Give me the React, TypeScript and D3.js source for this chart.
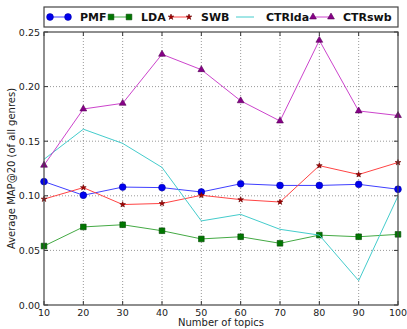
import React from 'react';
import * as d3 from 'd3';

const topics = [10, 20, 30, 40, 50, 60, 70, 80, 90, 100];
const pmf = [0.113, 0.1005, 0.108, 0.1075, 0.1035, 0.111, 0.1095, 0.1095, 0.1105, 0.106];
const lda = [0.054, 0.0715, 0.0735, 0.068, 0.0605, 0.0625, 0.0565, 0.064, 0.0625, 0.0647];
const swb = [0.097, 0.1075, 0.092, 0.093, 0.1005, 0.0965, 0.0943, 0.1276, 0.1195, 0.1305];
const ctrlda = [0.1334, 0.161, 0.148, 0.126, 0.077, 0.083, 0.0693, 0.064, 0.0223, 0.0998];
const ctrswb = [0.128, 0.1795, 0.1847, 0.2296, 0.2155, 0.187, 0.1685, 0.2424, 0.1777, 0.1735];
const yTicks = [0, 0.05, 0.1, 0.15, 0.2, 0.25];

const series = [
  { name: 'PMF', values: pmf, line: '#3f3fff', mark: '#0000ee', edge: '#0000aa', symbol: d3.symbolCircle, size: 36 },
  { name: 'LDA', values: lda, line: '#44aa44', mark: '#007700', edge: '#004400', symbol: d3.symbolSquare, size: 32 },
  { name: 'SWB', values: swb, line: '#ff4444', mark: '#aa0000', edge: '#660000', symbol: d3.symbolStar, size: 10 },
  { name: 'CTRlda', values: ctrlda, line: '#44cccc', mark: null, edge: null, symbol: null, size: 0 },
  { name: 'CTRswb', values: ctrswb, line: '#cc44cc', mark: '#880088', edge: '#550055', symbol: d3.symbolTriangle, size: 20 },
];

// legend entry start positions
const legendX = [50, 111, 171, 236, 313];

const W = 407, H = 329;
const left = 44, right = 398, top = 32, bottom = 305;

export default function App() {
  const x = d3.scaleLinear().domain([10, 100]).range([left, right]);
  const y = d3.scaleLinear().domain([0, 0.25]).range([bottom, top]);
  const line = d3.line<number>().x((d, i) => x(topics[i])).y(d => y(d));
  const font = 'DejaVu Sans, sans-serif';

  return (
    <svg width={W} height={H} style={{ position: 'absolute', left: 0, top: 0 }} fontFamily={font}>
      <rect x={0} y={0} width={W} height={H} fill="white" />
      {/* grid */}
      {topics.slice(1, -1).map(t => (
        <line key={'gx' + t} x1={x(t)} x2={x(t)} y1={top} y2={bottom} stroke="#999" strokeDasharray="1,2" />
      ))}
      {yTicks.slice(1, -1).map(t => (
        <line key={'gy' + t} x1={left} x2={right} y1={y(t)} y2={y(t)} stroke="#999" strokeDasharray="1,2" />
      ))}
      {/* ticks */}
      {topics.map(t => (
        <g key={'tx' + t}>
          <line x1={x(t)} x2={x(t)} y1={bottom} y2={bottom - 4} stroke="#333" />
          <line x1={x(t)} x2={x(t)} y1={top} y2={top + 4} stroke="#333" />
          <text x={x(t)} y={316} fontSize={9.5} textAnchor="middle" fill="#222">{t}</text>
        </g>
      ))}
      {yTicks.map(t => (
        <g key={'ty' + t}>
          <line x1={left} x2={left + 4} y1={y(t)} y2={y(t)} stroke="#333" />
          <line x1={right} x2={right - 4} y1={y(t)} y2={y(t)} stroke="#333" />
          <text x={left - 4} y={y(t) + 3.5} fontSize={9.5} textAnchor="end" fill="#222">{t.toFixed(2)}</text>
        </g>
      ))}
      {/* series */}
      {series.map(s => (
        <g key={s.name}>
          <path d={line(s.values) || ''} fill="none" stroke={s.line} strokeWidth={1} />
          {s.symbol && s.values.map((v, i) => (
            <path key={i} d={d3.symbol(s.symbol!, s.size)() || ''}
              transform={`translate(${x(topics[i])},${y(v)})`} fill={s.mark!} stroke={s.edge!} strokeWidth={0.6} />
          ))}
        </g>
      ))}
      <rect x={left} y={top} width={right - left} height={bottom - top} fill="none" stroke="#444" strokeWidth={1.2} />
      {/* legend */}
      <rect x={44} y={7} width={354} height={20} fill="white" stroke="#444" strokeWidth={1.2} />
      {series.map((s, k) => (
        <g key={'lg' + s.name}>
          <line x1={legendX[k]} x2={legendX[k] + 18} y1={17} y2={17} stroke={s.line} />
          {s.symbol && [0, 18].map(dx => (
            <path key={dx} d={d3.symbol(s.symbol!, s.size)() || ''}
              transform={`translate(${legendX[k] + dx},17)`} fill={s.mark!} stroke={s.edge!} strokeWidth={0.6} />
          ))}
          <text x={legendX[k] + 30} y={21} fontSize={11} fontWeight="bold" fill="#111">{s.name}</text>
        </g>
      ))}
      {/* axis labels */}
      <text x={(left + right) / 2} y={326} fontSize={10} textAnchor="middle" fill="#222">Number of topics</text>
      <text transform={`translate(15,${(top + bottom) / 2}) rotate(-90)`} fontSize={10} textAnchor="middle" fill="#222">
        Average MAP@20 (of all genres)
      </text>
    </svg>
  );
}
